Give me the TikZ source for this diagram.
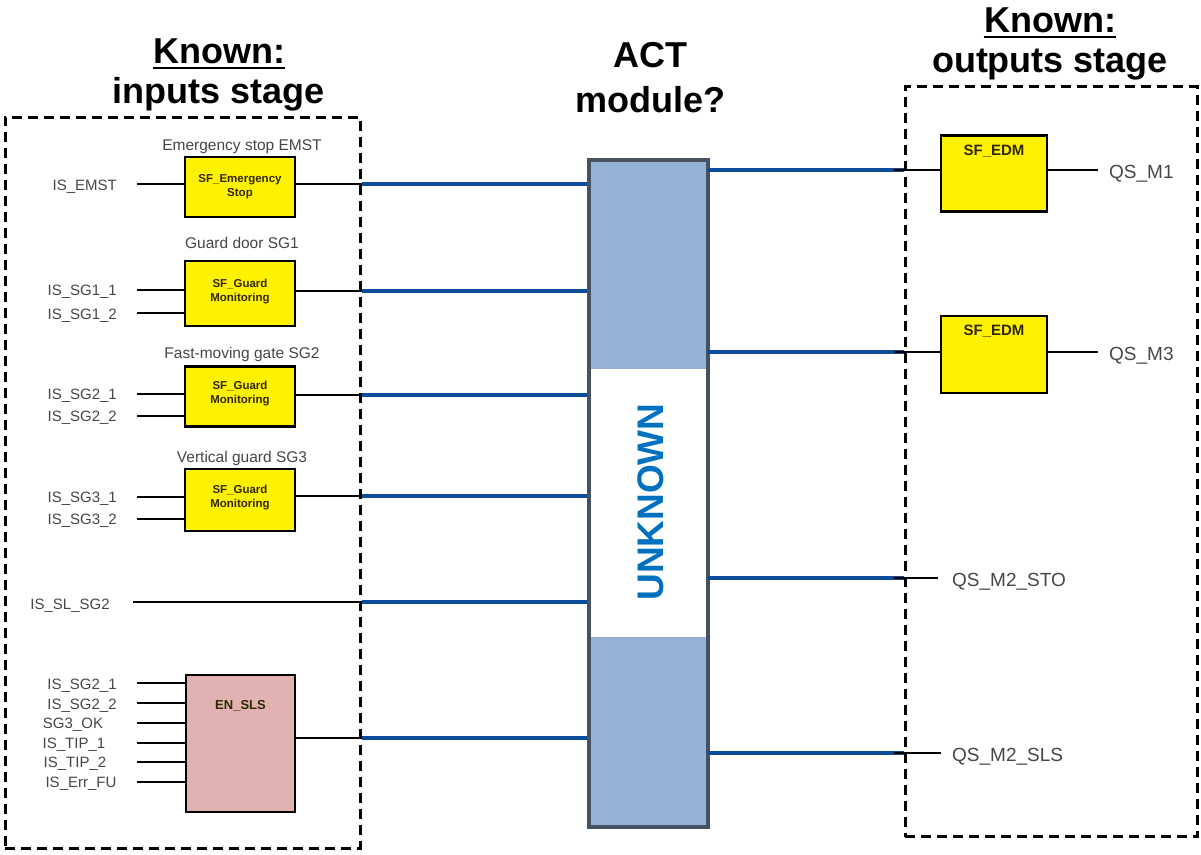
\documentclass[tikz,border=0pt]{standalone}
\usepackage{fontspec}
\setmainfont{Liberation Sans}
\usetikzlibrary{calc}
\definecolor{wireblue}{RGB}{12,76,152}
\definecolor{actfill}{RGB}{149,179,215}
\definecolor{actedge}{RGB}{70,82,98}
\definecolor{unkblue}{RGB}{0,112,192}
\definecolor{slsfill}{RGB}{226,178,176}
\definecolor{lblgray}{RGB}{70,70,70}
\definecolor{innertxt}{RGB}{50,40,0}
\begin{document}
\begin{tikzpicture}[x=1pt,y=-1pt,
  dashbox/.style={draw=black,line width=3pt,dash pattern=on 10pt off 6pt},
  fbox/.style={draw=black,line width=2.5pt,fill=yellow,inner sep=0pt},
  slsbox/.style={draw=black,line width=2.5pt,fill=slsfill,inner sep=0pt},
  inner/.style={font=\fontsize{11.5}{12}\selectfont\bfseries,text=innertxt,align=center,inner sep=0pt},
  lbl/.style={font=\fontsize{15}{17}\selectfont,text=lblgray,inner sep=0pt},
  rlbl/.style={font=\fontsize{19}{21}\selectfont,text=lblgray,inner sep=0pt},
  caption/.style={font=\fontsize{15.5}{17}\selectfont,text=lblgray,inner sep=0pt},
  title/.style={font=\fontsize{36}{40}\selectfont\bfseries,inner sep=0pt,anchor=base},
  wire/.style={draw=black,line width=2.5pt},
  bwire/.style={draw=wireblue,line width=4pt}]
\useasboundingbox (0,0) rectangle (1201,854);

% titles
\node[title] (kin) at (219,63) {Known:};
\draw[line width=2.5pt] ([yshift=-5pt]kin.base west) -- ([yshift=-5pt]kin.base east);
\node[title] (inst) at (219,103) {inputs stage};
\node[title] (act1) at (650,67) {ACT};
\node[title] (act2) at (650,112) {module?};
\node[title] (kout) at (1050,32) {Known:};
\draw[line width=2.5pt] ([yshift=-5pt]kout.base west) -- ([yshift=-5pt]kout.base east);
\node[title] (outst) at (1050,72) {outputs stage};

% dashed stage boxes
\node[dashbox,minimum width=355pt,minimum height=731pt] (lbox) at (182.5,482.5) {};
\node[dashbox,minimum width=292pt,minimum height=750pt] (rbox) at (1051,461.5) {};

% ACT module
\fill[actfill] (589,160) rectangle (708,369);
\fill[white] (589,369) rectangle (708,637);
\fill[actfill] (589,637) rectangle (708,827);
\node[draw=actedge,line width=4pt,minimum width=119pt,minimum height=667pt,inner sep=0pt] (act) at (648.5,493.5) {};
\node[rotate=90,font=\fontsize{37}{40}\selectfont\bfseries,text=unkblue,inner sep=0pt] (unk) at (651,502) {UNKNOWN};

% ---- EMST
\node[caption] (c1) at (242,147) {Emergency stop EMST};
\node[fbox,minimum width=110pt,minimum height=60pt] (emst) at (240,187) {};
\node[inner] (t1) at (240,187) {SF\_Emergency\\[2pt]Stop};
\node[lbl,anchor=east] (l1) at (117,187) {IS\_EMST};
\coordinate (i1) at (137,184);
\draw[wire] (i1) -- (i1 -| emst.west);
\draw[wire] (emst.east |- i1) -- (i1 -| lbox.east);
\draw[bwire] (i1 -| lbox.east) -- (i1 -| act.west);

% ---- SG1
\node[caption] (c2) at (242,243) {Guard door SG1};
\node[fbox,minimum width=110pt,minimum height=65pt] (sg1) at (240,293.5) {};
\node[inner] (t2) at (240,292) {SF\_Guard\\[2pt]Monitoring};
\node[lbl,anchor=east] (l2a) at (117,292) {IS\_SG1\_1};
\node[lbl,anchor=east] (l2b) at (117,316) {IS\_SG1\_2};
\coordinate (i2a) at (137,290);
\coordinate (i2b) at (137,313);
\coordinate (o2) at (295,291);
\draw[wire] (i2a) -- (i2a -| sg1.west);
\draw[wire] (i2b) -- (i2b -| sg1.west);
\draw[wire] (o2) -- (o2 -| lbox.east);
\draw[bwire] (o2 -| lbox.east) -- (o2 -| act.west);

% ---- SG2
\node[caption] (c3) at (242,354) {Fast-moving gate SG2};
\node[fbox,minimum width=110pt,minimum height=60pt] (sg2) at (240,396.5) {};
\node[inner] (t3) at (240,394) {SF\_Guard\\[2pt]Monitoring};
\node[lbl,anchor=east] (l3a) at (117,396) {IS\_SG2\_1};
\node[lbl,anchor=east] (l3b) at (117,418) {IS\_SG2\_2};
\coordinate (i3a) at (137,394);
\coordinate (i3b) at (137,416);
\coordinate (o3) at (295,395);
\draw[wire] (i3a) -- (i3a -| sg2.west);
\draw[wire] (i3b) -- (i3b -| sg2.west);
\draw[wire] (o3) -- (o3 -| lbox.east);
\draw[bwire] (o3 -| lbox.east) -- (o3 -| act.west);

% ---- SG3
\node[caption] (c4) at (242,458) {Vertical guard SG3};
\node[fbox,minimum width=110pt,minimum height=62pt] (sg3) at (240,500) {};
\node[inner] (t4) at (240,498) {SF\_Guard\\[2pt]Monitoring};
\node[lbl,anchor=east] (l4a) at (117,499) {IS\_SG3\_1};
\node[lbl,anchor=east] (l4b) at (117,521) {IS\_SG3\_2};
\coordinate (i4a) at (137,497);
\coordinate (i4b) at (137,519);
\coordinate (o4) at (295,496);
\draw[wire] (i4a) -- (i4a -| sg3.west);
\draw[wire] (i4b) -- (i4b -| sg3.west);
\draw[wire] (o4) -- (o4 -| lbox.east);
\draw[bwire] (o4 -| lbox.east) -- (o4 -| act.west);

% ---- IS_SL_SG2
\node[lbl] (l5) at (70,606) {IS\_SL\_SG2};
\coordinate (i5) at (133,602);
\draw[wire] (i5) -- (i5 -| lbox.east);
\draw[bwire] (i5 -| lbox.east) -- (i5 -| act.west);

% ---- EN_SLS
\node[slsbox,minimum width=109pt,minimum height=137pt] (sls) at (240.5,743.5) {};
\node[inner,font=\fontsize{13}{14}\selectfont\bfseries] (t6) at (240.5,706) {EN\_SLS};
\node[lbl] (l6a) at (82,686) {IS\_SG2\_1};
\node[lbl] (l6b) at (82,706) {IS\_SG2\_2};
\node[lbl] (l6c) at (73,725) {SG3\_OK};
\node[lbl] (l6d) at (74,745) {IS\_TIP\_1};
\node[lbl] (l6e) at (75,764) {IS\_TIP\_2};
\node[lbl] (l6f) at (81,784) {IS\_Err\_FU};
\foreach \yy/\nm in {683/a,703/b,723/c,743/d,762/e,782/f}{
  \coordinate (i6\nm) at (137,\yy);
  \draw[wire] (i6\nm) -- (i6\nm -| sls.west);
}
\coordinate (o6) at (295,738);
\draw[wire] (o6) -- (o6 -| lbox.east);
\draw[bwire] (o6 -| lbox.east) -- (o6 -| act.west);

% ---- outputs
\node[fbox,minimum width=106pt,minimum height=76pt] (edm1) at (994,173.5) {};
\node[inner,font=\fontsize{15}{16}\selectfont\bfseries] (e1t) at (994,151) {SF\_EDM};
\node[rlbl,anchor=west] (q1) at (1109,174) {QS\_M1};
\coordinate (r1) at (708,170);
\draw[bwire] (r1) -- (r1 -| rbox.west) coordinate (r1b);
\draw[wire] ([xshift=-10pt]r1b) -- (r1 -| edm1.west);
\draw[wire] (r1 -| edm1.east) -- (1098,170);

\node[fbox,minimum width=106pt,minimum height=77pt] (edm2) at (994,354.5) {};
\node[inner,font=\fontsize{15}{16}\selectfont\bfseries] (e2t) at (994,331) {SF\_EDM};
\node[rlbl,anchor=west] (q2) at (1109,356) {QS\_M3};
\coordinate (r2) at (708,352);
\draw[bwire] (r2) -- (r2 -| rbox.west) coordinate (r2b);
\draw[wire] ([xshift=-10pt]r2b) -- (r2 -| edm2.west);
\draw[wire] (r2 -| edm2.east) -- (1098,352);

\node[rlbl,anchor=west] (q3) at (952,582) {QS\_M2\_STO};
\coordinate (r3) at (708,578);
\draw[bwire] (r3) -- (r3 -| rbox.west) coordinate (r3b);
\draw[wire] ([xshift=-10pt]r3b) -- (938,578);

\node[rlbl,anchor=west] (q4) at (952,757) {QS\_M2\_SLS};
\coordinate (r4) at (708,753);
\draw[bwire] (r4) -- (r4 -| rbox.west) coordinate (r4b);
\draw[wire] ([xshift=-10pt]r4b) -- (941,753);
\end{tikzpicture}
\end{document}
